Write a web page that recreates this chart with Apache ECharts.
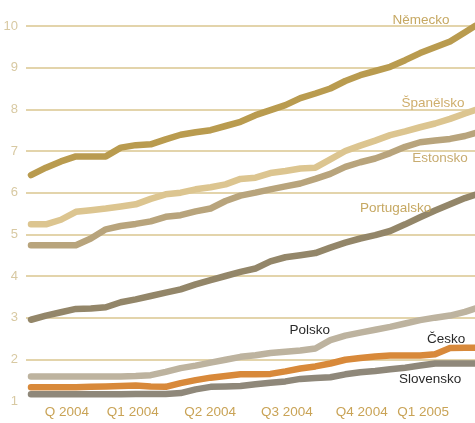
<!DOCTYPE html>
<html>
<head>
<meta charset="utf-8">
<script src="https://cdn.jsdelivr.net/npm/echarts@6/dist/echarts.min.js"></script>
<style>html,body{margin:0;padding:0;background:#fff}#c{width:475px;height:423px}</style>
</head>
<body>
<div id="c"></div>
<script>
// x positions (weeks from start)
const weeks = [0,3,6,9,12,15,18,21,24,27,30,33,36,39,42,45,48,51,54,57,60,63,66,69,72,75,78,81,84,87,89];
// quarter tick labels and their week positions
const quarterTicks = [7.2, 20.4, 35.9, 51.3, 66.3, 78.6];
const quarterLabels = ['Q 2004','Q1 2004','Q2 2004','Q3 2004','Q4 2004','Q1 2005'];
const yTicks = [1,2,3,4,5,6,7,8,9,10];

const nemecko = [6.42,6.6,6.75,6.87,6.87,6.87,7.08,7.14,7.16,7.28,7.39,7.45,7.5,7.6,7.7,7.86,7.98,8.1,8.27,8.38,8.5,8.68,8.82,8.92,9.02,9.18,9.35,9.49,9.63,9.85,10.0];
const spanelsko = [5.24,5.24,5.35,5.54,5.58,5.62,5.67,5.72,5.85,5.96,6.0,6.08,6.13,6.2,6.33,6.36,6.47,6.52,6.58,6.6,6.8,7.0,7.13,7.25,7.38,7.47,7.57,7.66,7.77,7.9,7.98];
const estonsko = [4.74,4.74,4.74,4.74,4.9,5.12,5.2,5.25,5.31,5.42,5.46,5.55,5.62,5.8,5.93,6.0,6.08,6.15,6.22,6.33,6.45,6.62,6.73,6.82,6.95,7.1,7.21,7.25,7.29,7.36,7.43];
const portugalsko = [2.95,3.05,3.13,3.21,3.22,3.25,3.37,3.44,3.52,3.6,3.68,3.8,3.9,4.0,4.1,4.18,4.35,4.45,4.5,4.55,4.68,4.8,4.9,4.98,5.08,5.24,5.41,5.57,5.72,5.87,5.95];
const polsko = [1.59,1.59,1.59,1.59,1.59,1.59,1.59,1.6,1.62,1.7,1.79,1.85,1.92,1.99,2.06,2.1,2.15,2.18,2.21,2.26,2.46,2.57,2.64,2.71,2.78,2.86,2.94,3.0,3.05,3.14,3.22];
const slovensko = [1.16,1.16,1.16,1.16,1.16,1.16,1.16,1.17,1.17,1.17,1.19,1.28,1.34,1.35,1.36,1.4,1.44,1.47,1.53,1.55,1.57,1.64,1.69,1.72,1.76,1.8,1.85,1.9,1.9,1.9,1.9];
const cesko = [1.33,1.33,1.33,1.33,1.34,1.35,1.36,1.37,1.35,1.34,1.43,1.5,1.56,1.6,1.64,1.64,1.65,1.71,1.78,1.83,1.9,1.99,2.03,2.07,2.09,2.09,2.09,2.12,2.27,2.28,2.28];

const seriesNames = ['Německo','Španělsko','Estonsko','Portugalsko','Polsko','Slovensko','Česko'];
const seriesValues = [nemecko, spanelsko, estonsko, portugalsko, polsko, slovensko, cesko];

// styling (colours, label anchors in data units, pixel offsets)
const styles = [
  {color:'#b99b4f', labelColor:'#c6a862', at:[78.2,10.0], off:[0,-6]},
  {color:'#dcc590', labelColor:'#cfae6c', at:[80.6,8.15], off:[0,0]},
  {color:'#b8a47c', labelColor:'#c8ac70', at:[82.0,6.83], off:[0,0]},
  {color:'#938669', labelColor:'#c6a862', at:[73.1,5.63], off:[0,0]},
  {color:'#bdb39f', labelColor:'#2b2b2b', at:[55.9,2.69], off:[0,0]},
  {color:'#8f887a', labelColor:'#2b2b2b', at:[80.0,1.51], off:[0,0]},
  {color:'#d8893a', labelColor:'#2b2b2b', at:[83.2,2.48], off:[0,0]}
];

const font = '"Liberation Sans", Arial, sans-serif';

const series = seriesNames.map((name, i) => ({
  name: name,
  type: 'line',
  data: weeks.map((w, j) => [w, seriesValues[i][j]]),
  showSymbol: false,
  symbol: 'none',
  clip: false,
  lineStyle: {color: styles[i].color, width: 6.5, cap: 'round', join: 'round'},
  itemStyle: {color: styles[i].color},
  markPoint: {
    symbol: 'circle',
    symbolSize: 0,
    silent: true,
    data: [{coord: styles[i].at}],
    label: {
      show: true,
      position: 'inside',
      offset: styles[i].off,
      formatter: name,
      color: styles[i].labelColor,
      fontSize: 13.5,
      fontFamily: font
    }
  }
}));

const chart = echarts.init(document.getElementById('c'), null, {renderer: 'canvas'});
chart.setOption({
  animation: false,
  backgroundColor: '#ffffff',
  grid: {left: 26, right: 0, top: 26, bottom: 22, containLabel: false},
  xAxis: {
    type: 'value',
    min: -1,
    max: 89,
    axisLine: {show: false},
    axisTick: {show: false},
    splitLine: {show: false},
    axisLabel: {
      show: true,
      customValues: quarterTicks,
      formatter: function (v) {
        const k = quarterTicks.indexOf(v);
        return k >= 0 ? quarterLabels[k] : '';
      },
      color: '#c9a356',
      fontSize: 13.5,
      fontFamily: font,
      margin: 4
    }
  },
  yAxis: {
    type: 'value',
    min: yTicks[0],
    max: yTicks[yTicks.length - 1],
    interval: 1,
    axisLine: {show: false},
    axisTick: {show: false},
    axisLabel: {color: '#d8c9a2', fontSize: 13, fontFamily: font, margin: 8},
    splitLine: {
      show: true,
      lineStyle: {
        color: ['rgba(0,0,0,0)','#e3d4ab','#e3d4ab','#e3d4ab','#e3d4ab','#e3d4ab','#e3d4ab','#e3d4ab','#e3d4ab','#e3d4ab'],
        width: 2
      }
    }
  },
  series: series
});
</script>
</body>
</html>
